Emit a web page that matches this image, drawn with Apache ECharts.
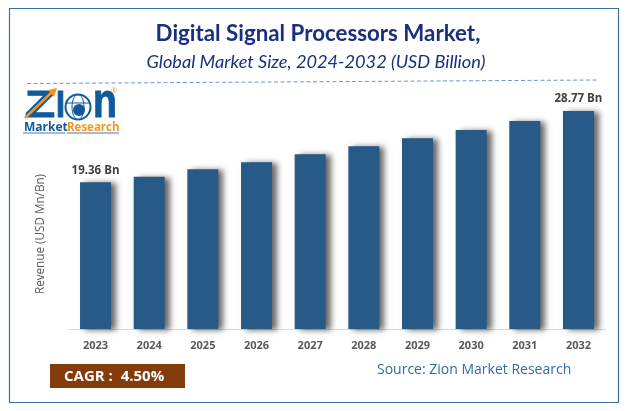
<!DOCTYPE html>
<html>
<head>
<meta charset="utf-8">
<style>
html, body { margin: 0; padding: 0; background: #fff; }
#chart { width: 626px; height: 411px; }
</style>
<script src="https://cdn.jsdelivr.net/npm/echarts@6/dist/echarts.min.js"></script>
</head>
<body>
<div id="chart"></div>
<script>
var years = ['2023', '2024', '2025', '2026', '2027', '2028', '2029', '2030', '2031', '2032'];
var revenue = [19.36, 20.1, 21.08, 22.0, 23.06, 24.11, 25.17, 26.26, 27.45, 28.77];
var labelled = ['2023', '2032'];

var titleText = 'Digital Signal Processors Market,';
var subtitleText = 'Global Market Size, 2024-2032 (USD Billion)';
var axisName = 'Revenue (USD Mn/Bn)';
var cagrText = 'CAGR :  4.50%';
var sourceText = 'Source: Zion Market Research';

var barColor = '#285a87';
var blue = '#0f5a9e';
var orange = '#f7941d';

var chart = echarts.init(document.getElementById('chart'));

chart.setOption({
    animation: false,
    backgroundColor: '#fff',
    title: [
        {
            text: titleText,
            left: 313, top: 18, textAlign: 'center',
            textStyle: {color: '#1b2f7f', fontFamily: 'Lato', fontWeight: 'bold', fontSize: 22.3}
        },
        {
            text: subtitleText,
            left: 311, top: 48, textAlign: 'center',
            textStyle: {color: '#1b2f7f', fontFamily: 'Lato', fontWeight: 'normal', fontStyle: 'italic', fontSize: 18.2}
        }
    ],
    grid: {left: 68.7, right: 20.7, top: 101.7, bottom: 82},
    xAxis: {
        type: 'category',
        data: years,
        axisLine: {lineStyle: {color: '#d9d9d9', width: 1}},
        axisTick: {show: false},
        axisLabel: {color: '#595959', fontFamily: 'Open Sans', fontWeight: 'bold', fontSize: 11, margin: 11}
    },
    yAxis: {
        type: 'value',
        min: 0,
        max: 30,
        axisLine: {show: false},
        axisTick: {show: false},
        axisLabel: {show: false},
        splitLine: {show: false}
    },
    series: [{
        type: 'bar',
        barWidth: 31,
        data: revenue.map(function(value, index){
            var show = labelled.indexOf(years[index]) !== -1;
            return {
                value: value,
                label: {
                    show: show,
                    position: 'top',
                    distance: 6,
                    formatter: '{c} Bn',
                    color: '#404040',
                    fontFamily: 'Open Sans',
                    fontWeight: 'bold',
                    fontSize: 11.5
                }
            };
        }),
        itemStyle: {
            color: barColor,
            shadowColor: 'rgba(0,0,0,0.6)',
            shadowBlur: 6,
            shadowOffsetX: 5,
            shadowOffsetY: 1
        }
    }],
    graphic: [
        /* frame */
        {type: 'rect', silent: true, shape: {x: 9.5, y: 8.5, width: 609, height: 394},
            style: {fill: 'none', stroke: '#3c6f9f', lineWidth: 1.2}},
        /* dashed rule */
        {type: 'line', silent: true, shape: {x1: 27, y1: 83.5, x2: 599, y2: 80},
            style: {stroke: '#6f94d2', lineWidth: 1, lineDash: [4, 2.5]}},
        /* axis name */
        {type: 'text', silent: true, x: 41, y: 234, rotation: Math.PI / 2,
            style: {text: axisName, fill: '#595959', font: '11.7px "Open Sans"', align: 'center', verticalAlign: 'middle'}},
        /* cagr box */
        {type: 'rect', silent: true, shape: {x: 50, y: 364, width: 135, height: 24}, style: {fill: '#843c0c'}},
        {type: 'text', silent: true, x: 64, y: 376.5,
            style: {text: cagrText, fill: '#fff', font: 'bold 15px "Open Sans"', verticalAlign: 'middle'}},
        /* source */
        {type: 'text', silent: true, x: 377, y: 370,
            style: {text: sourceText, fill: '#2f6ca8', font: '14px "Open Sans"', verticalAlign: 'middle'}},
        /* logo */
        {type: 'text', silent: true, x: 25, y: 107, scaleX: 1.36,
            style: {text: 'Z', fill: blue, stroke: blue, lineWidth: 1.2, font: 'bold 36px "Liberation Sans"', verticalAlign: 'middle'}},
        {type: 'text', silent: true, x: 56, y: 107, scaleX: 0.9,
            style: {text: 'I', fill: blue, stroke: blue, lineWidth: 1, font: 'bold 36px "Liberation Sans"', verticalAlign: 'middle'}},
        {type: 'circle', silent: true, shape: {cx: 78, cy: 107, r: 12.5}, style: {fill: '#fff', stroke: blue, lineWidth: 2}},
        {type: 'ellipse', silent: true, shape: {cx: 78, cy: 107, rx: 6, ry: 12.5}, style: {fill: 'none', stroke: blue, lineWidth: 1}},
        {type: 'line', silent: true, shape: {x1: 66, y1: 103, x2: 90, y2: 103}, style: {stroke: blue, lineWidth: 1}},
        {type: 'circle', silent: true, shape: {cx: 79, cy: 110, r: 6}, style: {fill: blue}},
        {type: 'text', silent: true, x: 93, y: 103, scaleX: 0.8,
            style: {text: 'n', fill: blue, stroke: blue, lineWidth: 1, font: 'bold 49px "Liberation Sans"', verticalAlign: 'middle'}},
        {type: 'line', silent: true, shape: {x1: 25, y1: 118, x2: 52, y2: 92},
            style: {stroke: orange, lineWidth: 2.5}},
        {type: 'polygon', silent: true, shape: {points: [[57, 88], [54, 97], [48, 90]]}, style: {fill: orange}},
        {type: 'text', silent: true, x: 114, y: 91,
            style: {text: '®', fill: orange, font: '7px "Open Sans"', align: 'center', verticalAlign: 'middle'}},
        {type: 'text', silent: true, x: 24, y: 128,
            style: {text: 'Market', fill: blue, font: 'bold 12px "Open Sans"', verticalAlign: 'middle'}},
        {type: 'text', silent: true, x: 67, y: 128,
            style: {text: 'Research', fill: orange, font: 'bold 11.5px "Open Sans"', verticalAlign: 'middle'}},
        {type: 'line', silent: true, shape: {x1: 23, y1: 133, x2: 65, y2: 133}, style: {stroke: blue, lineWidth: 0.8}},
        {type: 'line', silent: true, shape: {x1: 67, y1: 133, x2: 119, y2: 133}, style: {stroke: blue, lineWidth: 0.8}}
    ]
});
</script>
</body>
</html>
